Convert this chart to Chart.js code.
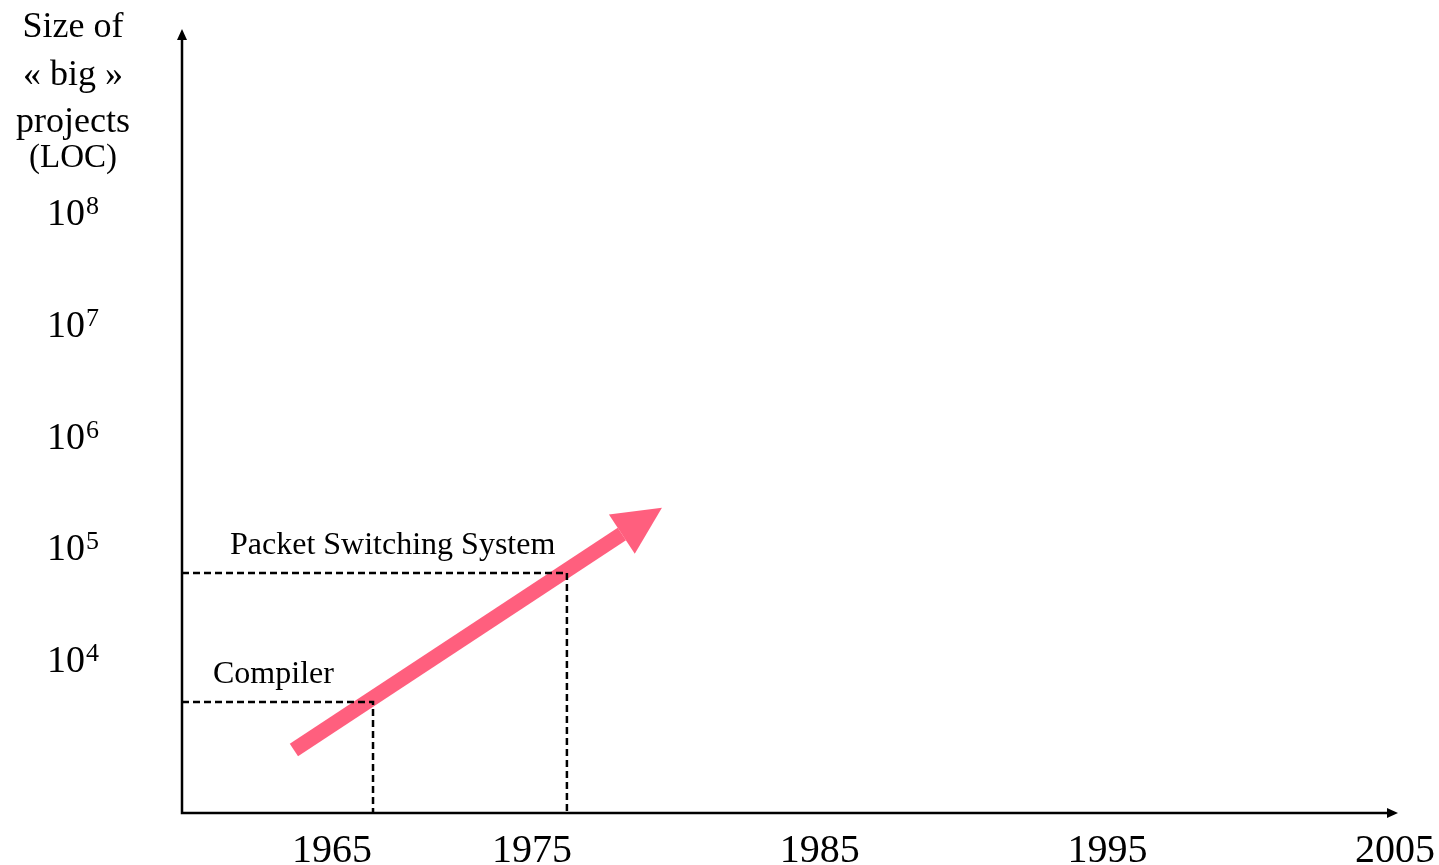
<!DOCTYPE html>
<html>
<head>
<meta charset="utf-8">
<script src="https://cdn.jsdelivr.net/npm/chart.js@4"></script>
<style>
  html, body { margin: 0; padding: 0; background: #ffffff; }
  #wrap { width: 1439px; height: 865px; position: relative; }
</style>
</head>
<body>
<div id="wrap"><canvas id="loc-chart"></canvas></div>
<script>
// Axis ranges (year on x, lines of code on a log y axis)
const xRange = [1962.83, 2005.1];
const yRange = [416, 4.375e9];

// Tick labels
const xTickLabels = ['1965', '1975', '1985', '1995', '2005'];
const xTickAt = [1968.04, 1975, 1985, 1995, 2005];
const yTickExponents = [4, 5, 6, 7, 8];
const yTitleLines = ['Size of', '\u00AB big \u00BB', 'projects', '(LOC)'];

// Milestones shown with dashed guides
const milestoneNames = ['Compiler', 'Packet Switching System'];
const milestoneYears = [1969.47, 1976.21];
const milestoneLoc = [4100, 58700];

// Growth arrow (tail and base of the head)
const arrowYears = [1966.72, 1978.12];
const arrowLoc = [1525, 131000];

const serif = '"Liberation Serif", "DejaVu Serif", serif';
const arrowColor = '#ff5f7e';

// Dashed guide for each milestone: from the y axis across, then down to the x axis
const guideDatasets = milestoneNames.map((name, i) => ({
    label: name,
    data: [
        { x: xRange[0], y: milestoneLoc[i] },
        { x: milestoneYears[i], y: milestoneLoc[i] },
        { x: milestoneYears[i], y: yRange[0] }
    ],
    borderColor: '#000000',
    borderWidth: 2.5,
    borderDash: [7, 4],
    pointRadius: 0,
    fill: false,
    clip: false
}));

const arrowDataset = {
    label: 'growth',
    data: arrowYears.map((yr, i) => ({ x: yr, y: arrowLoc[i] })),
    borderColor: arrowColor,
    borderWidth: 15,
    borderCapStyle: 'butt',
    pointRadius: 0,
    fill: false,
    clip: false
};

// Axes with arrow ends, tick labels, title and milestone captions
const decorPlugin = {
    id: 'decor',
    afterDatasetsDraw(chart) {
        const ctx = chart.ctx;
        const xs = chart.scales.x;
        const ys = chart.scales.y;
        const area = chart.chartArea;
        ctx.save();

        // arrow head on the growth arrow
        const pts = chart.getDatasetMeta(guideDatasets.length).data;
        const p0 = pts[0], p1 = pts[pts.length - 1];
        const ang = Math.atan2(p1.y - p0.y, p1.x - p0.x);
        const headLen = 48, headHalf = 23.5;
        ctx.fillStyle = arrowColor;
        ctx.beginPath();
        ctx.moveTo(p1.x + Math.cos(ang) * headLen, p1.y + Math.sin(ang) * headLen);
        ctx.lineTo(p1.x - Math.sin(ang) * headHalf, p1.y + Math.cos(ang) * headHalf);
        ctx.lineTo(p1.x + Math.sin(ang) * headHalf, p1.y - Math.cos(ang) * headHalf);
        ctx.closePath();
        ctx.fill();

        // axes
        ctx.strokeStyle = '#000000';
        ctx.fillStyle = '#000000';
        ctx.lineWidth = 2.5;
        ctx.beginPath();
        ctx.moveTo(area.left, area.top + 8);
        ctx.lineTo(area.left, area.bottom);
        ctx.lineTo(area.right - 8, area.bottom);
        ctx.stroke();
        ctx.beginPath();
        ctx.moveTo(area.left, area.top);
        ctx.lineTo(area.left - 5, area.top + 11);
        ctx.lineTo(area.left + 5, area.top + 11);
        ctx.closePath();
        ctx.fill();
        ctx.beginPath();
        ctx.moveTo(area.right, area.bottom);
        ctx.lineTo(area.right - 11, area.bottom - 5);
        ctx.lineTo(area.right - 11, area.bottom + 5);
        ctx.closePath();
        ctx.fill();

        // x tick labels
        ctx.font = '40px ' + serif;
        ctx.textAlign = 'center';
        ctx.textBaseline = 'alphabetic';
        xTickLabels.forEach((lab, i) => {
            ctx.fillText(lab, xs.getPixelForValue(xTickAt[i]), area.bottom + 49);
        });

        // y tick labels as 10 with a raised exponent
        yTickExponents.forEach(k => {
            const y = ys.getPixelForValue(Math.pow(10, k));
            ctx.font = '38px ' + serif;
            const wBase = ctx.measureText('10').width;
            ctx.font = '26px ' + serif;
            const wExp = ctx.measureText(String(k)).width;
            const left = 73 - (wBase + 1 + wExp) / 2;
            ctx.textAlign = 'left';
            ctx.font = '38px ' + serif;
            ctx.fillText('10', left, y + 13);
            ctx.font = '26px ' + serif;
            ctx.fillText(String(k), left + wBase + 1, y + 2);
        });

        // y axis title
        ctx.textAlign = 'center';
        const titleBase = [37, 85, 132, 167];
        const titleSize = [36, 36, 36, 33];
        yTitleLines.forEach((line, i) => {
            ctx.font = titleSize[i] + 'px ' + serif;
            ctx.fillText(line, 73, titleBase[i]);
        });

        // milestone captions above their dashed guides
        const captionDx = [31, 48];
        ctx.textAlign = 'left';
        ctx.font = '32px ' + serif;
        milestoneNames.forEach((name, i) => {
            ctx.fillText(name, area.left + captionDx[i], ys.getPixelForValue(milestoneLoc[i]) - 19);
        });

        ctx.restore();
    }
};

const ctx = document.getElementById('loc-chart').getContext('2d');
new Chart(ctx, {
    type: 'line',
    data: {
        datasets: [...guideDatasets, arrowDataset]
    },
    options: {
        responsive: true,
        maintainAspectRatio: false,
        animation: false,
        layout: {
            padding: { left: 182, right: 41, top: 29, bottom: 52 }
        },
        scales: {
            x: {
                type: 'linear',
                min: xRange[0],
                max: xRange[1],
                display: false
            },
            y: {
                type: 'logarithmic',
                min: yRange[0],
                max: yRange[1],
                display: false
            }
        },
        plugins: {
            legend: { display: false },
            title: { display: false },
            tooltip: { enabled: false }
        }
    },
    plugins: [decorPlugin]
});
</script>
</body>
</html>
